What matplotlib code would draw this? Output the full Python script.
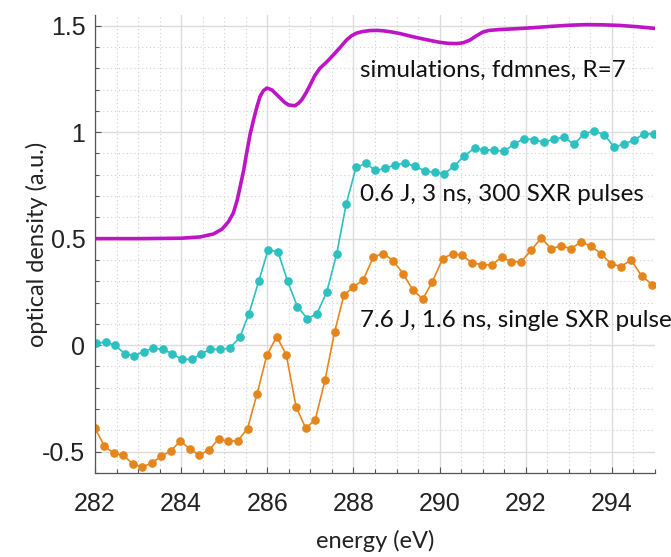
import numpy as np
import matplotlib.pyplot as plt
from matplotlib.ticker import MultipleLocator

# simulation curve (fdmnes, R=7)
sim_e = [282.0, 283.0, 284.0, 284.44, 284.75, 284.95, 285.1, 285.21, 285.3, 285.37,
         285.45, 285.52, 285.6, 285.68, 285.76, 285.83, 285.91, 285.99, 286.1, 286.2,
         286.3, 286.4, 286.49, 286.64, 286.72, 286.8, 286.9, 286.99, 287.1, 287.22,
         287.38, 287.53, 287.7, 287.84, 287.95, 288.07, 288.2, 288.38, 288.55, 288.69,
         288.9, 289.08, 289.3, 289.47, 289.7, 289.85, 290.0, 290.2, 290.4, 290.55,
         290.7, 290.85, 291.0, 291.15, 291.4, 291.8, 292.2, 292.6, 293.0, 293.4,
         293.8, 294.2, 294.6, 295.0]
sim_od = [0.500, 0.500, 0.502, 0.508, 0.522, 0.545, 0.58, 0.62, 0.68, 0.745,
          0.82, 0.902, 0.99, 1.058, 1.12, 1.167, 1.195, 1.207, 1.199, 1.18,
          1.16, 1.14, 1.128, 1.124, 1.135, 1.152, 1.185, 1.22, 1.265, 1.30,
          1.33, 1.362, 1.40, 1.433, 1.452, 1.465, 1.472, 1.477, 1.478, 1.476,
          1.47, 1.463, 1.452, 1.444, 1.434, 1.428, 1.422, 1.417, 1.416, 1.42,
          1.432, 1.452, 1.47, 1.478, 1.482, 1.486, 1.491, 1.497, 1.502, 1.505,
          1.504, 1.501, 1.495, 1.487]

# 0.6 J, 3 ns, 300 SXR pulses
cyan_e = [282.02, 282.25, 282.46, 282.69, 282.91, 283.13, 283.35, 283.57, 283.79, 284.02,
          284.24, 284.47, 284.68, 284.91, 285.13, 285.36, 285.57, 285.80, 286.02, 286.25,
          286.47, 286.70, 286.93, 287.15, 287.38, 287.61, 287.83, 288.06, 288.29, 288.51,
          288.74, 288.97, 289.20, 289.43, 289.66, 289.89, 290.11, 290.34, 290.57, 290.81,
          291.03, 291.26, 291.49, 291.73, 291.96, 292.19, 292.42, 292.65, 292.89, 293.12,
          293.35, 293.58, 293.82, 294.05, 294.28, 294.51, 294.74, 294.97]
cyan_od = [0.008, 0.014, 0.0, -0.04, -0.05, -0.03, -0.014, -0.02, -0.04, -0.067,
           -0.067, -0.04, -0.02, -0.02, -0.013, 0.036, 0.145, 0.30, 0.448, 0.437,
           0.30, 0.18, 0.125, 0.147, 0.25, 0.428, 0.662, 0.835, 0.853, 0.82,
           0.83, 0.847, 0.855, 0.839, 0.818, 0.811, 0.805, 0.841, 0.889, 0.924,
           0.917, 0.916, 0.91, 0.944, 0.97, 0.964, 0.953, 0.968, 0.975, 0.944,
           0.992, 1.005, 0.989, 0.93, 0.944, 0.963, 0.992, 0.992]

# 7.6 J, 1.6 ns, single SXR pulse
orng_e = [282.00, 282.22, 282.44, 282.66, 282.88, 283.10, 283.32, 283.54, 283.77, 283.98,
          284.21, 284.42, 284.65, 284.87, 285.09, 285.32, 285.54, 285.76, 285.99, 286.22,
          286.44, 286.67, 286.89, 287.11, 287.34, 287.56, 287.78, 288.00, 288.23, 288.46,
          288.69, 288.92, 289.15, 289.38, 289.61, 289.83, 290.07, 290.30, 290.52, 290.75,
          290.98, 291.21, 291.44, 291.66, 291.89, 292.12, 292.36, 292.59, 292.82, 293.05,
          293.28, 293.52, 293.74, 293.98, 294.21, 294.44, 294.69, 294.94]
orng_od = [-0.39, -0.475, -0.508, -0.517, -0.559, -0.573, -0.553, -0.522, -0.495, -0.45,
           -0.489, -0.516, -0.492, -0.44, -0.452, -0.448, -0.392, -0.23, -0.047, 0.04,
           -0.046, -0.292, -0.389, -0.353, -0.164, 0.06, 0.236, 0.273, 0.308, 0.414,
           0.43, 0.397, 0.336, 0.258, 0.217, 0.297, 0.406, 0.43, 0.422, 0.386,
           0.378, 0.377, 0.413, 0.392, 0.391, 0.445, 0.503, 0.452, 0.467, 0.452,
           0.485, 0.464, 0.43, 0.382, 0.369, 0.40, 0.325, 0.283]

xticks = [282, 284, 286, 288, 290, 292, 294]
yticks = [-0.5, 0, 0.5, 1, 1.5]
ytick_labels = ['-0.5', '0', '0.5', '1', '1.5']

txt_font = ['Lato', 'DejaVu Sans']
num_font = ['Liberation Sans', 'DejaVu Sans']

fig = plt.figure(figsize=(6.71, 5.57), dpi=100)
ax = fig.add_axes([0.1416, 0.151, 0.8346, 0.822])

ax.plot(sim_e, sim_od, color='#BF14C6', lw=2.6, solid_capstyle='round')
ax.plot(cyan_e, cyan_od, color='#2CC0C0', lw=1.2, marker='o', ms=5.2)
ax.plot(orng_e, orng_od, color='#E5861C', lw=1.2, marker='o', ms=5.2)

ax.set_xlim(282, 295)
ax.set_ylim(-0.6, 1.55)
ax.set_xticks(xticks)
ax.set_xticklabels([str(t) for t in xticks], family=num_font, fontsize=18, color='#222222')
ax.set_yticks(yticks)
ax.set_yticklabels(ytick_labels, family=num_font, fontsize=18, color='#222222')
ax.xaxis.set_minor_locator(MultipleLocator(0.5))
ax.yaxis.set_minor_locator(MultipleLocator(0.1))
ax.tick_params(which='both', direction='in', color='#555555', width=0.8)
ax.tick_params(which='major', length=4)
ax.tick_params(axis='x', which='major', pad=14)
ax.tick_params(axis='y', which='major', pad=7)
ax.tick_params(which='minor', length=3)

ax.grid(which='major', color='#dcdcdc', lw=1.0, ls='-')
ax.grid(which='minor', color='#d0d0d0', lw=0.8, ls=(0, (1, 2.5)))
ax.set_axisbelow(True)
for s in ['top', 'right']:
    ax.spines[s].set_visible(False)
for s in ['left', 'bottom']:
    ax.spines[s].set_color('#555555')
    ax.spines[s].set_linewidth(0.9)

ax.set_xlabel('energy (eV)', family=txt_font, fontsize=17, color='#222222', va='center')
ax.set_ylabel('optical density (a.u.)', family=txt_font, fontsize=17, color='#222222')
ax.xaxis.set_label_coords(0.5, -0.148)
ax.yaxis.set_label_coords(-0.084, 0.5)

ax.text(288.15, 1.29, 'simulations, fdmnes, R=7', family=txt_font, fontsize=17.5,
        color='#111111', va='center')
ax.text(288.15, 0.705, '0.6 J, 3 ns, 300 SXR pulses', family=txt_font, fontsize=17.5,
        color='#111111', va='center')
ax.text(288.15, 0.115, '7.6 J, 1.6 ns, single SXR pulse', family=txt_font, fontsize=17.5,
        color='#111111', va='center')

fig.savefig('out.png', dpi=100)
